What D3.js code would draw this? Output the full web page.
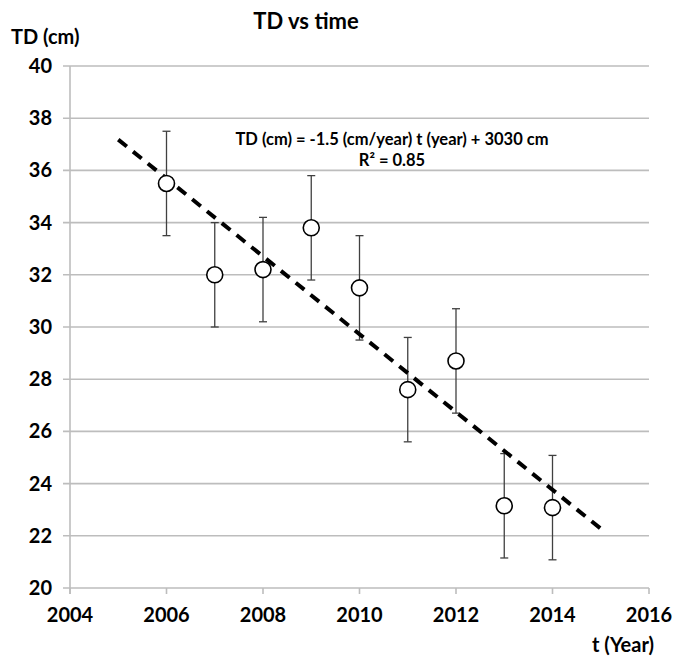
<!DOCTYPE html>
<html>
<head>
<meta charset="utf-8">
<script src="https://cdn.jsdelivr.net/npm/d3@7"></script>
<style>
  html, body { margin: 0; padding: 0; background: #fff; }
  svg { display: block; }
  text { font-family: Lato, "Open Sans", sans-serif; font-weight: bold; fill: #000; }
</style>
</head>
<body>
<svg id="chart" width="673" height="656"></svg>
<script>
const years = [2006, 2007, 2008, 2009, 2010, 2011, 2012, 2013, 2014];
const tdValues = [35.5, 32.0, 32.2, 33.8, 31.5, 27.6, 28.7, 23.15, 23.08];
const tdErrors = [2, 2, 2, 2, 2, 2, 2, 2, 2];
const xTicks = [2004, 2006, 2008, 2010, 2012, 2014, 2016];
const yTicks = [20, 22, 24, 26, 28, 30, 32, 34, 36, 38, 40];
const trendRange = [2005, 2015];
const titleText = "TD vs time";
const yTitle = "TD (cm)";
const xTitle = "t (Year)";
const eqLine1 = "TD (cm) = -1.5 (cm/year) t (year) + 3030 cm";
const eqLine2 = "R² = 0.85";

const svg = d3.select("#chart");
const x = d3.scaleLinear().domain([2004, 2016]).range([70, 649]);
const y = d3.scaleLinear().domain([20, 40]).range([588, 66]);

// gridlines
svg.append("g").selectAll("line").data(yTicks).join("line")
  .attr("x1", x(2004) - 7).attr("x2", x(2016))
  .attr("y1", d => y(d)).attr("y2", d => y(d))
  .attr("stroke", "#bdbdbd").attr("stroke-width", 1.6);

// y axis line
svg.append("line").attr("x1", x(2004)).attr("x2", x(2004))
  .attr("y1", y(40)).attr("y2", y(20) + 6)
  .attr("stroke", "#bdbdbd").attr("stroke-width", 1.6);

// x axis ticks
svg.append("g").selectAll("line").data(xTicks).join("line")
  .attr("x1", d => x(d)).attr("x2", d => x(d))
  .attr("y1", y(20)).attr("y2", y(20) + 6)
  .attr("stroke", "#bdbdbd").attr("stroke-width", 1.6);

// y tick labels
svg.append("g").selectAll("text").data(yTicks).join("text")
  .attr("x", 52).attr("y", d => y(d) + 7)
  .attr("text-anchor", "end").attr("font-size", 20)
  .text(d => d);

// x tick labels
svg.append("g").selectAll("text").data(xTicks).join("text")
  .attr("x", d => x(d)).attr("y", 622)
  .attr("text-anchor", "middle").attr("font-size", 20)
  .text(d => d);

// titles
svg.append("text").attr("x", 306).attr("y", 29).attr("text-anchor", "middle")
  .attr("font-size", 22).text(titleText);
svg.append("text").attr("x", 11).attr("y", 44).attr("font-size", 20).text(yTitle);
svg.append("text").attr("x", 654).attr("y", 652).attr("text-anchor", "end")
  .attr("font-size", 20).text(xTitle);

// error bars
const data = years.map((t, i) => ({ t, v: tdValues[i], e: tdErrors[i] }));
const eb = svg.append("g").attr("stroke", "#404040").attr("stroke-width", 1.3);
data.forEach(d => {
  eb.append("line").attr("x1", x(d.t)).attr("x2", x(d.t))
    .attr("y1", y(d.v + d.e)).attr("y2", y(d.v - d.e));
  [d.v + d.e, d.v - d.e].forEach(v => {
    eb.append("line").attr("x1", x(d.t) - 4).attr("x2", x(d.t) + 4)
      .attr("y1", y(v)).attr("y2", y(v));
  });
});

// linear regression trendline
const mt = d3.mean(years), mv = d3.mean(tdValues);
const slope = d3.sum(years, (t, i) => (t - mt) * (tdValues[i] - mv)) /
              d3.sum(years, t => (t - mt) * (t - mt));
const icpt = mv - slope * mt;
svg.append("path")
  .attr("d", d3.line().x(t => x(t)).y(t => y(icpt + slope * t))(trendRange))
  .attr("stroke", "#000").attr("stroke-width", 4)
  .attr("stroke-dasharray", "11,8").attr("fill", "none");

// points
svg.append("g").selectAll("circle").data(data).join("circle")
  .attr("cx", d => x(d.t)).attr("cy", d => y(d.v)).attr("r", 8)
  .attr("fill", "#fff").attr("stroke", "#000").attr("stroke-width", 1.6);

// equation
svg.append("text").attr("x", 392).attr("y", 145).attr("text-anchor", "middle")
  .attr("font-size", 16.5).text(eqLine1);
svg.append("text").attr("x", 392).attr("y", 166).attr("text-anchor", "middle")
  .attr("font-size", 16.5).text(eqLine2);
</script>
</body>
</html>
